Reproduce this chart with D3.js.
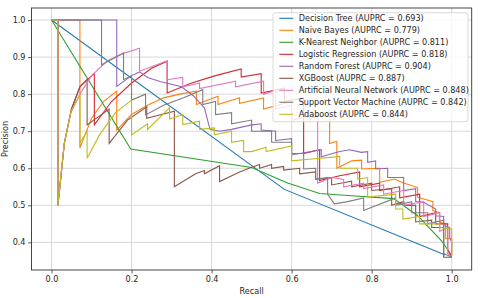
<!DOCTYPE html>
<html>
<head>
<meta charset="utf-8">
<script src="https://cdn.jsdelivr.net/npm/d3@7"></script>
<style>
    body { margin: 0; background: #fff; }
    text { font-family: "DejaVu Sans", sans-serif; }
</style>
</head>
<body>
<script>
// Model names, scores and tab10 colours, in legend order
var modelNames = ["Decision Tree", "Naive Bayes", "K-Nearest Neighbor",
    "Logistic Regression", "Random Forest", "XGBoost",
    "Artificial Neural Network", "Support Vector Machine", "Adaboost"];
var auprcValues = [0.693, 0.779, 0.811, 0.818, 0.904, 0.887, 0.848, 0.842, 0.844];
var colors = ["#1f77b4", "#ff7f0e", "#2ca02c", "#d62728", "#9467bd",
    "#8c564b", "#e377c2", "#7f7f7f", "#bcbd22"];
var xTicks = [0.0, 0.2, 0.4, 0.6, 0.8, 1.0];
var yTicks = [0.4, 0.5, 0.6, 0.7, 0.8, 0.9, 1.0];

// [recall, precision] pairs
var decisionTree = [[0, 1], [0.582, 0.543], [0.984, 0.366]];
var naiveBayes = [[0, 1], [0.071, 1], [0.071, 0.655], [0.1, 0.735], [0.13, 0.78],
    [0.163, 0.808], [0.163, 0.703], [0.2, 0.745], [0.24, 0.77], [0.28, 0.79],
    [0.32, 0.80], [0.362, 0.808], [0.362, 0.772], [0.416, 0.794], [0.416, 0.772],
    [0.47, 0.79], [0.47, 0.775], [0.53, 0.79], [0.53, 0.76], [0.6, 0.78],
    [0.6, 0.73], [0.645, 0.744], [0.645, 0.735], [0.695, 0.745], [0.695, 0.667],
    [0.713, 0.672], [0.713, 0.60], [0.75, 0.62], [0.775, 0.622], [0.775, 0.598],
    [0.82, 0.60], [0.82, 0.562], [0.857, 0.571], [0.88, 0.56], [0.915, 0.548],
    [0.915, 0.522], [0.953, 0.51], [0.953, 0.486], [0.97, 0.48], [0.97, 0.454],
    [0.985, 0.45], [0.985, 0.41], [1.0, 0.41], [1.0, 0.365]];
var knn = [[0, 1], [0.198, 0.652], [0.5, 0.602], [0.59, 0.56], [0.67, 0.532],
    [0.75, 0.526], [0.855, 0.518], [0.915, 0.472], [0.974, 0.405],
    [0.995, 0.373], [1.0, 0.36]];
var logistic = [[0, 1], [0.016, 1], [0.016, 0.5], [0.032, 0.667], [0.05, 0.76],
    [0.071, 0.82], [0.107, 0.856], [0.107, 0.717], [0.15, 0.78], [0.2, 0.83],
    [0.25, 0.87], [0.289, 0.889], [0.289, 0.803], [0.35, 0.83], [0.41, 0.85],
    [0.474, 0.868], [0.474, 0.846], [0.524, 0.855], [0.524, 0.803],
    [0.582, 0.816], [0.582, 0.78], [0.63, 0.79], [0.63, 0.64], [0.67, 0.65],
    [0.67, 0.567], [0.72, 0.58], [0.77, 0.59], [0.77, 0.55], [0.82, 0.56],
    [0.82, 0.54], [0.87, 0.55], [0.87, 0.52], [0.92, 0.53], [0.92, 0.47],
    [0.96, 0.48], [0.96, 0.45], [0.99, 0.45], [0.99, 0.38], [1.0, 0.36]];
var randomForest = [[0, 1], [0.163, 1], [0.163, 0.821], [0.2, 0.85], [0.22, 0.86],
    [0.24, 0.845], [0.271, 0.834], [0.325, 0.82], [0.355, 0.795], [0.382, 0.763],
    [0.396, 0.705], [0.42, 0.70], [0.45, 0.705], [0.5, 0.717], [0.524, 0.72],
    [0.524, 0.703], [0.56, 0.70], [0.56, 0.675], [0.6, 0.68], [0.6, 0.636],
    [0.674, 0.65], [0.674, 0.631], [0.72, 0.645], [0.745, 0.65], [0.774, 0.643],
    [0.79, 0.645], [0.79, 0.616], [0.81, 0.62], [0.81, 0.598], [0.84, 0.60],
    [0.84, 0.575], [0.88, 0.575], [0.88, 0.54], [0.91, 0.545], [0.91, 0.51],
    [0.93, 0.508], [0.96, 0.49], [0.96, 0.472], [0.98, 0.47], [0.98, 0.445],
    [0.995, 0.44], [0.995, 0.414], [1.0, 0.4], [1.0, 0.37]];
var xgboost = [[0, 1], [0.016, 1], [0.016, 0.5], [0.032, 0.667], [0.05, 0.76],
    [0.071, 0.82], [0.089, 0.84], [0.089, 0.717], [0.144, 0.76], [0.144, 0.667],
    [0.19, 0.73], [0.238, 0.766], [0.238, 0.735], [0.307, 0.754], [0.307, 0.55],
    [0.36, 0.585], [0.382, 0.594], [0.382, 0.585], [0.42, 0.607], [0.42, 0.564],
    [0.47, 0.59], [0.5, 0.603], [0.52, 0.61], [0.52, 0.60], [0.55, 0.61],
    [0.55, 0.60], [0.58, 0.605], [0.58, 0.595], [0.62, 0.6], [0.62, 0.585],
    [0.66, 0.59], [0.66, 0.57], [0.7, 0.575], [0.7, 0.555], [0.75, 0.565],
    [0.75, 0.55], [0.8, 0.56], [0.8, 0.54], [0.85, 0.545], [0.85, 0.5],
    [0.88, 0.51], [0.88, 0.5], [0.91, 0.5], [0.91, 0.455], [0.95, 0.46],
    [0.95, 0.44], [0.98, 0.44], [0.98, 0.36], [1.0, 0.36]];
var neuralNet = [[0, 1], [0.016, 1], [0.016, 0.5], [0.032, 0.667], [0.048, 0.75],
    [0.071, 0.80], [0.1, 0.85], [0.14, 0.89], [0.18, 0.91], [0.22, 0.924],
    [0.22, 0.862], [0.289, 0.89], [0.289, 0.839], [0.328, 0.845], [0.328, 0.82],
    [0.37, 0.83], [0.37, 0.815], [0.46, 0.835], [0.46, 0.82], [0.53, 0.835],
    [0.53, 0.80], [0.56, 0.81], [0.56, 0.76], [0.6, 0.77], [0.6, 0.73],
    [0.665, 0.745], [0.665, 0.56], [0.7, 0.575], [0.73, 0.57], [0.73, 0.55],
    [0.78, 0.56], [0.78, 0.545], [0.83, 0.555], [0.83, 0.53], [0.88, 0.54],
    [0.88, 0.5], [0.93, 0.51], [0.93, 0.47], [0.97, 0.48], [0.97, 0.43],
    [0.99, 0.44], [0.99, 0.37], [1.0, 0.36]];
var svm = [[0, 1], [0.125, 1], [0.125, 0.879], [0.18, 0.911], [0.18, 0.839],
    [0.2, 0.85], [0.2, 0.784], [0.235, 0.80], [0.235, 0.744], [0.28, 0.77],
    [0.33, 0.79], [0.378, 0.812], [0.378, 0.772], [0.41, 0.78], [0.41, 0.745],
    [0.45, 0.75], [0.45, 0.72], [0.5, 0.73], [0.5, 0.70], [0.55, 0.70],
    [0.55, 0.67], [0.6, 0.67], [0.6, 0.64], [0.63, 0.64], [0.63, 0.598],
    [0.66, 0.60], [0.66, 0.571], [0.69, 0.575], [0.69, 0.53], [0.707, 0.504],
    [0.74, 0.51], [0.78, 0.52], [0.78, 0.486], [0.86, 0.52], [0.86, 0.50],
    [0.9, 0.51], [0.9, 0.48], [0.94, 0.48], [0.94, 0.45], [0.98, 0.46],
    [0.98, 0.37], [1.0, 0.36]];
var adaboost = [[0, 1], [0.016, 1], [0.016, 0.502], [0.032, 0.667], [0.048, 0.75],
    [0.071, 0.80], [0.071, 0.668], [0.089, 0.70], [0.089, 0.627], [0.12, 0.69],
    [0.16, 0.75], [0.2, 0.784], [0.2, 0.69], [0.24, 0.72], [0.24, 0.705],
    [0.295, 0.763], [0.295, 0.733], [0.328, 0.745], [0.328, 0.718], [0.37, 0.727],
    [0.37, 0.705], [0.407, 0.709], [0.407, 0.69], [0.45, 0.70], [0.45, 0.67],
    [0.48, 0.675], [0.48, 0.645], [0.5, 0.645], [0.536, 0.657], [0.536, 0.645],
    [0.6, 0.66], [0.6, 0.62], [0.65, 0.625], [0.703, 0.63], [0.72, 0.632],
    [0.72, 0.60], [0.765, 0.60], [0.765, 0.571], [0.79, 0.575], [0.79, 0.522],
    [0.86, 0.53], [0.86, 0.49], [0.878, 0.49], [0.878, 0.463], [0.92, 0.47],
    [0.92, 0.45], [0.97, 0.45], [0.97, 0.44], [1.0, 0.436], [1.0, 0.364]];

var curves = [decisionTree, naiveBayes, knn, logistic, randomForest,
    xgboost, neuralNet, svm, adaboost];

// margins put the axes box where the original figure has it
var margin = {top: 8, right: 8.3, bottom: 28, left: 31.5},
    width = 480 - margin.left - margin.right,
    height = 298 - margin.top - margin.bottom;

var svg = d3.select("body").append("svg")
    .attr("width", 480)
    .attr("height", 298)
    .append("g")
    .attr("transform", "translate(" + margin.left + "," + margin.top + ")");

var xScale = d3.scaleLinear().domain([-0.05, 1.05]).range([0, width]);
var yScale = d3.scaleLinear().domain([0.3255, 1.0324]).range([height, 0]);

// grid lines
svg.append("g")
    .selectAll("line")
    .data(xTicks)
    .enter()
    .append("line")
    .attr("x1", function(d) { return xScale(d); })
    .attr("x2", function(d) { return xScale(d); })
    .attr("y1", 0)
    .attr("y2", height)
    .attr("stroke", "#d4d4d4")
    .attr("stroke-width", 0.9);
svg.append("g")
    .selectAll("line")
    .data(yTicks)
    .enter()
    .append("line")
    .attr("x1", 0)
    .attr("x2", width)
    .attr("y1", function(d) { return yScale(d); })
    .attr("y2", function(d) { return yScale(d); })
    .attr("stroke", "#d4d4d4")
    .attr("stroke-width", 0.9);

// the curves, in legend order so Adaboost ends on top
var line = d3.line()
    .x(function(d) { return xScale(d[0]); })
    .y(function(d) { return yScale(d[1]); });

svg.selectAll("path.curve")
    .data(curves)
    .enter()
    .append("path")
    .attr("class", "curve")
    .attr("d", line)
    .attr("fill", "none")
    .attr("stroke", function(d, i) { return colors[i]; })
    .attr("stroke-width", 1.1);

// axes
var xAxis = d3.axisBottom(xScale).tickValues(xTicks)
    .tickFormat(d3.format(".1f")).tickSize(3.5).tickPadding(2.5);
var yAxis = d3.axisLeft(yScale).tickValues(yTicks)
    .tickFormat(d3.format(".1f")).tickSize(3.5).tickPadding(2.5);

var gx = svg.append("g")
    .attr("transform", "translate(0," + height + ")")
    .call(xAxis);
var gy = svg.append("g").call(yAxis);
[gx, gy].forEach(function(g) {
    g.select(".domain").remove();
    g.selectAll("line").attr("stroke", "#333").attr("stroke-width", 0.8);
    g.selectAll("text")
        .attr("font-family", "DejaVu Sans")
        .attr("font-size", "8.1px")
        .attr("fill", "#262626");
});

// frame
svg.append("rect")
    .attr("width", width)
    .attr("height", height)
    .attr("fill", "none")
    .attr("stroke", "#333")
    .attr("stroke-width", 0.9);

// axis titles
svg.append("text")
    .text("Recall")
    .attr("x", xScale(0.5))
    .attr("y", height + 23.5)
    .attr("font-size", "8.1px")
    .attr("fill", "#262626")
    .style("text-anchor", "middle");
svg.append("text")
    .text("Precision")
    .attr("transform", "rotate(-90)")
    .attr("x", -height / 2)
    .attr("y", -23.8)
    .attr("font-size", "8.1px")
    .attr("fill", "#262626")
    .style("text-anchor", "middle");

// legend
var legend = svg.append("g")
    .attr("transform", "translate(" + (273 - margin.left) + "," + (12.7 - margin.top) + ")");
legend.append("rect")
    .attr("width", 195)
    .attr("height", 109)
    .attr("rx", 2)
    .attr("fill", "#fff")
    .attr("fill-opacity", 0.8)
    .attr("stroke", "#d0d0d0")
    .attr("stroke-width", 0.8);
var items = legend.selectAll("g.item")
    .data(modelNames)
    .enter()
    .append("g")
    .attr("class", "item")
    .attr("transform", function(d, i) {
        return "translate(0," + (5.6 + i * 12.0) + ")";
    });
items.append("line")
    .attr("x1", 6.3)
    .attr("x2", 20.3)
    .attr("stroke", function(d, i) { return colors[i]; })
    .attr("stroke-width", 1.1);
items.append("text")
    .text(function(d, i) {
        return d + " (AUPRC = " + auprcValues[i].toFixed(3) + ")";
    })
    .attr("x", 25.7)
    .attr("dy", "0.35em")
    .attr("font-size", "8.1px")
    .attr("fill", "#262626");
</script>
</body>
</html>
